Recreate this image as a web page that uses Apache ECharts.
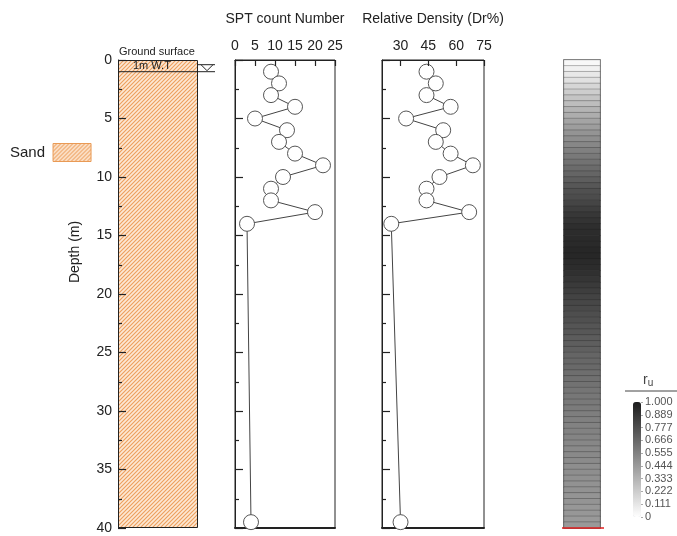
<!DOCTYPE html>
<html>
<head>
<meta charset="utf-8">
<script src="https://cdn.jsdelivr.net/npm/echarts@6/dist/echarts.min.js"></script>
<style>
  html, body { margin: 0; padding: 0; background: #fff; }
  #main { width: 677px; height: 536px; }
</style>
</head>
<body>
<div id="main"></div>
<script>
// borehole data
var layerName = 'Sand';
var layerBottom = 40;
var waterTable = 1;
var depthPts = [1, 2, 3, 4, 5, 6, 7, 8, 9, 10, 11, 12, 13, 14, 39.5];
var sptN = [9, 11, 9, 15, 5, 13, 11, 15, 22, 12, 9, 9, 20, 3, 4];
var relDensity = [44, 49, 44, 57, 33, 53, 49, 57, 69, 51, 44, 44, 67, 25, 30];
var sptTicks = [0, 5, 10, 15, 20, 25];
var drTicks = [30, 45, 60, 75];

// ru per 0.5 m element, top to bottom
var ruValues = [
  0.03, 0.06, 0.10, 0.13, 0.18, 0.22, 0.26, 0.29, 0.33, 0.36,
  0.40, 0.43, 0.47, 0.50, 0.53, 0.56, 0.59, 0.62, 0.65, 0.68,
  0.71, 0.74, 0.77, 0.79, 0.82, 0.85, 0.88, 0.90, 0.92, 0.93,
  0.94, 0.94, 0.95, 0.95, 0.94, 0.93, 0.91, 0.89, 0.87, 0.85,
  0.83, 0.81, 0.80, 0.78, 0.77, 0.75, 0.74, 0.72, 0.71, 0.70,
  0.68, 0.67, 0.66, 0.64, 0.63, 0.62, 0.61, 0.60, 0.59, 0.58,
  0.57, 0.56, 0.55, 0.55, 0.54, 0.53, 0.52, 0.52, 0.51, 0.50,
  0.50, 0.49, 0.48, 0.48, 0.47, 0.47, 0.46, 0.46, 0.45, 0.45
];
var ruLabels = ['0', '0.111', '0.222', '0.333', '0.444', '0.555', '0.666', '0.777', '0.889', '1.000'];

// hatch pattern for sand
function makeHatch() {
  var c = document.createElement('canvas');
  c.width = 4; c.height = 4;
  var ctx = c.getContext('2d');
  ctx.fillStyle = '#fde8d4';
  ctx.fillRect(0, 0, 4, 4);
  ctx.strokeStyle = '#ee9f5c';
  ctx.lineWidth = 1.1;
  ctx.beginPath();
  ctx.moveTo(0, 4); ctx.lineTo(4, 0);
  ctx.moveTo(-1, 1); ctx.lineTo(1, -1);
  ctx.moveTo(3, 5); ctx.lineTo(5, 3);
  ctx.stroke();
  return c;
}
var hatch = { image: makeHatch(), repeat: 'repeat' };

var font = 'Liberation Sans, Arial, sans-serif';
var ink = '#222';

function depthAxis(gi, showLabel) {
  return {
    type: 'value', gridIndex: gi, inverse: true, min: 0, max: 40, interval: 5,
    z: 5,
    axisLine: { show: true, lineStyle: { color: ink, width: 1 } },
    axisTick: { show: true, inside: true, length: 8, lineStyle: { color: ink, width: 1.2 } },
    minorTick: { show: true, splitNumber: 2, length: 4, lineStyle: { color: ink, width: 1.2 } },
    axisLabel: { show: showLabel, fontSize: 14, color: ink, fontFamily: font, margin: 6 },
    splitLine: { show: false }
  };
}
function topAxis(gi, min, max, ticks) {
  return {
    type: 'value', gridIndex: gi, position: 'top', min: min, max: max,
    z: 5,
    axisLine: { show: true, lineStyle: { color: ink } },
    axisTick: { show: true, inside: true, length: 6, customValues: ticks, lineStyle: { color: ink, width: 1.2 } },
    axisLabel: { show: true, customValues: ticks, fontSize: 14, color: ink, fontFamily: font, margin: 7 },
    splitLine: { show: false }
  };
}
function bottomAxis(gi, min, max) {
  return {
    type: 'value', gridIndex: gi, position: 'bottom', min: min, max: max,
    axisLine: { show: true, lineStyle: { color: ink, width: 2 } },
    axisTick: { show: false }, axisLabel: { show: false }, splitLine: { show: false }
  };
}

function pairs(xs) {
  return xs.map(function (v, i) { return [v, depthPts[i]]; });
}

var pointSeries = {
  type: 'line', symbol: 'circle', symbolSize: 15, z: 3,
  lineStyle: { color: '#444', width: 1 },
  itemStyle: { color: '#fff', borderColor: '#555', borderWidth: 1 },
  emphasis: { disabled: true }
};

var ruCells = ruValues.map(function (v, i) { return [0, i, v]; });
var ruCats = ruValues.map(function (v, i) { return String(i * 0.5); });

var option = {
  animation: false,
  textStyle: { fontFamily: font },
  legend: {
    left: 10, top: 143, orient: 'vertical', align: 'right', padding: 0,
    itemWidth: 38, itemHeight: 18, itemGap: 5,
    textStyle: { fontSize: 15, color: ink, padding: [0, 3, 0, 0] },
    data: [{ name: layerName, icon: 'rect', itemStyle: { color: hatch, borderColor: '#e99a55', borderWidth: 1 } }]
  },
  grid: [
    { left: 118, top: 60, width: 80, height: 468 },
    { left: 235, top: 60, width: 100, height: 468, show: true, borderColor: ink, borderWidth: 1 },
    { left: 382, top: 60, width: 102, height: 468, show: true, borderColor: ink, borderWidth: 1 },
    { left: 564, top: 60, width: 36, height: 468, show: true, borderColor: '#555', borderWidth: 1.5 },
    { left: 633, top: 402, width: 8, height: 115 }
  ],
  xAxis: [
    { type: 'category', gridIndex: 0, data: [layerName], show: false },
    Object.assign(topAxis(1, 0, 25, sptTicks), {
      name: 'SPT count Number', nameLocation: 'middle', nameGap: 34,
      nameTextStyle: { fontSize: 14, color: ink }
    }),
    bottomAxis(1, 0, 25),
    Object.assign(topAxis(2, 20, 75, drTicks), {
      name: 'Relative Density (Dr%)', nameLocation: 'middle', nameGap: 34,
      nameTextStyle: { fontSize: 14, color: ink }
    }),
    bottomAxis(2, 20, 75),
    { type: 'category', gridIndex: 3, data: ['ru'], show: false },
    { type: 'category', gridIndex: 4, data: ['c'], show: false }
  ],
  yAxis: [
    depthAxis(0, true),
    depthAxis(1, false),
    depthAxis(2, false),
    { type: 'category', gridIndex: 3, data: ruCats, inverse: true, show: false },
    {
      type: 'category', gridIndex: 4, data: ruLabels, boundaryGap: false, position: 'right',
      axisLine: { show: false },
      axisTick: { show: true, length: 2, lineStyle: { color: '#aaa' } },
      axisLabel: { fontSize: 11, color: '#555', margin: 4, interval: 0 },
      splitLine: { show: false }
    }
  ],
  visualMap: {
    type: 'continuous', min: 0, max: 1, seriesIndex: 3,
    left: 633, top: 402, itemWidth: 8, itemHeight: 115, padding: 0,
    calculable: false, hoverLink: false,
    inRange: { color: ['#ffffff', '#1c1c1c'] }
  },
  series: [
    {
      name: layerName, type: 'bar', xAxisIndex: 0, yAxisIndex: 0,
      data: [layerBottom], barWidth: '100%', z: 1,
      itemStyle: { color: hatch, borderColor: ink, borderWidth: 1 },
      emphasis: { disabled: true }
    },
    Object.assign({ name: 'SPT', xAxisIndex: 1, yAxisIndex: 1, data: pairs(sptN) }, pointSeries),
    Object.assign({ name: 'Dr', xAxisIndex: 3, yAxisIndex: 2, data: pairs(relDensity) }, pointSeries),
    {
      name: 'ru', type: 'heatmap', xAxisIndex: 5, yAxisIndex: 3, data: ruCells,
      itemStyle: { borderColor: 'rgba(30,30,30,0.45)', borderWidth: 0.6 },
      emphasis: { disabled: true }
    }
  ]
};

var chart = echarts.init(document.getElementById('main'));
chart.setOption(option);

// annotations placed from the depth scale
var yTop = chart.convertToPixel({ yAxisIndex: 0 }, 0);
var yWT = chart.convertToPixel({ yAxisIndex: 0 }, waterTable);
var yBot = chart.convertToPixel({ yAxisIndex: 0 }, layerBottom);

chart.setOption({
  graphic: [
    { type: 'text', z: 100, left: 119, top: yTop - 14, style: { text: 'Ground surface', fontSize: 11, fill: ink, fontFamily: font } },
    { type: 'text', z: 100, left: 133, top: yWT - 11, style: { text: '1m W.T', fontSize: 11, fill: ink, fontFamily: font } },
    { type: 'line', z: 100, shape: { x1: 118, y1: yWT, x2: 215, y2: yWT }, style: { stroke: ink, lineWidth: 1 } },
    { type: 'line', z: 100, shape: { x1: 198, y1: yWT - 7, x2: 215, y2: yWT - 7 }, style: { stroke: ink, lineWidth: 1 } },
    { type: 'polyline', z: 100, shape: { points: [[201, yWT - 7], [207, yWT - 1], [213, yWT - 7]] }, style: { stroke: ink, fill: null, lineWidth: 1 } },
    {
      type: 'text', z: 100, rotation: Math.PI / 2, x: 75, y: 252,
      style: { text: 'Depth (m)', fontSize: 14, fill: ink, fontFamily: font, align: 'center', verticalAlign: 'middle' }
    },
    {
      type: 'text', z: 100, left: 643, top: 373,
      style: {
        text: '{r|r}{u|u}', fill: '#444',
        rich: { r: { fontSize: 14, fill: '#444' }, u: { fontSize: 10, fill: '#444', padding: [6, 0, 0, 0] } }
      }
    },
    { type: 'line', z: 100, shape: { x1: 625, y1: 391, x2: 677, y2: 391 }, style: { stroke: '#444', lineWidth: 1 } },
    { type: 'line', z: 100, shape: { x1: 562, y1: yBot, x2: 604, y2: yBot }, style: { stroke: '#e02020', lineWidth: 1.5 } }
  ]
});
</script>
</body>
</html>
